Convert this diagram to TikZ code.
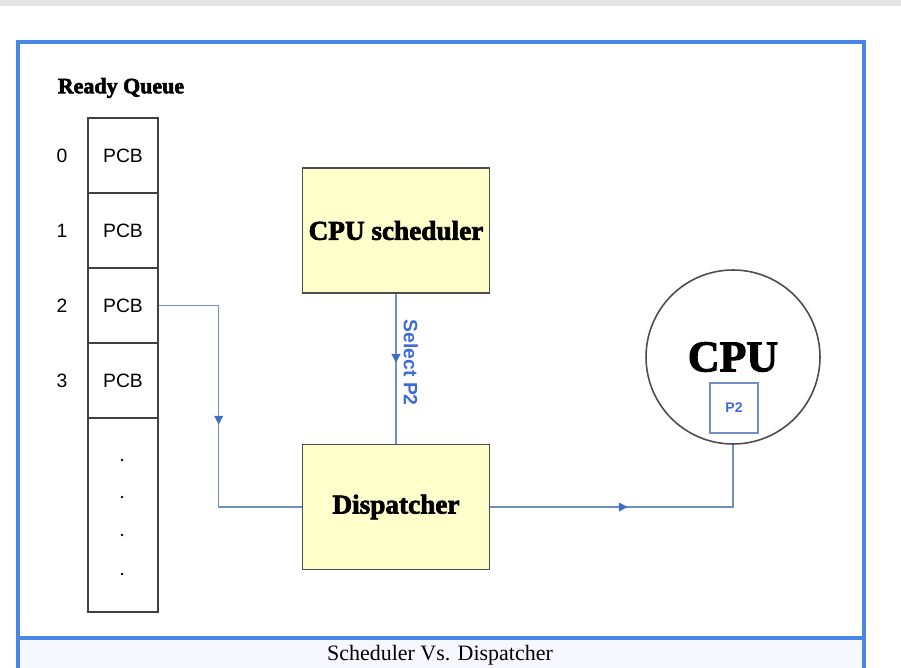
\documentclass[tikz,border=0pt]{standalone}
\usepackage{fontspec}
\usepackage{tikz}
\usetikzlibrary{arrows.meta,decorations.markings}
\newfontfamily\arialfont{Liberation Sans}
\newfontfamily\timesfont{Liberation Serif}
\newfontfamily\heavyfont[FakeBold=2.5]{Liberation Serif Bold}
\definecolor{framecol}{HTML}{4A86E8}
\definecolor{linkcol}{HTML}{6F8FC2}
\definecolor{tipcol}{HTML}{3F6FC4}
\definecolor{boxfill}{HTML}{FFFFCC}
\definecolor{seltext}{HTML}{3C6AD6}

\begin{document}
\begin{tikzpicture}[x=0.02cm, y=-0.02cm,
		cell/.style={draw=black!75, line width=0.8pt, minimum width=1.4cm, minimum height=1.5cm, font=\arialfont\fontsize{11}{12}\selectfont},
		stage/.style={draw=black!70, line width=1.1pt, fill=boxfill, minimum width=3.74cm, minimum height=2.5cm, font=\heavyfont\fontsize{15.5}{17}\selectfont},
		link/.style={draw=linkcol, line width=0.8pt},
		midtip/.style={postaction={decorate}, decoration={markings, mark=at position #1 with {\arrow[tipcol]{Triangle[length=5pt,width=5pt]}}}}]
		\useasboundingbox (0,0) rectangle (901,668);
		\fill[black!10] (0,0) rectangle (901,6);
		% outer frame and caption strip
		\fill[blue!3] (18,638) rectangle (864,668);
		\draw[framecol, line width=2.2pt] (18,668) -- (18,42) -- (864,42) -- (864,668);
		\draw[framecol, line width=2.2pt] (18,638) -- (864,638);
		\node (caption) at (440,655) {\timesfont\fontsize{12.5}{14}\selectfont Scheduler Vs. Dispatcher};
		% ready queue
		\node (title) at (121,88) {\heavyfont\fontsize{12.5}{14}\selectfont Ready Queue};
		\foreach \i in {0,...,3}{
			\node[cell] (pcb\i) at (123,155.5+75*\i) {PCB};
			\node[font=\arialfont\fontsize{11}{12}\selectfont] (idx\i) at (62,156+75*\i) {\i};
		}
		\node[cell, minimum height=3.88cm] (rest) at (123,515) {};
		\foreach \d in {460,497,535,574}{
			\fill (122,\d) circle (1.3);
		}
		% stages
		\node[stage] (sched) at (396,230.5) {CPU scheduler};
		\node[stage] (disp) at (396,507) {Dispatcher};
		\node[circle, draw=black!70, line width=0.9pt, minimum size=3.48cm, font=\heavyfont\fontsize{25}{27}\selectfont] (cpu) at (733,357) {CPU};
		\node[draw=linkcol, line width=0.8pt, minimum width=0.96cm, minimum height=1cm, font=\arialfont\bfseries\fontsize{8}{9}\selectfont, text=seltext] (p2) at (734,408) {P2};
		% connectors
		\draw[link, midtip=0.52] (pcb2.east) -- ++(60,0) |- (disp.west);
		\draw[link, midtip=0.46] (sched.south) -- node[pos=0.46, anchor=south, rotate=-90, inner sep=4pt, text=seltext, font=\arialfont\bfseries\fontsize{11}{12}\selectfont] (sel) {Select P2} (disp.north);
		\draw[link, midtip=0.45] (disp.east) -| (cpu.south);
	\end{tikzpicture}
\end{document}
